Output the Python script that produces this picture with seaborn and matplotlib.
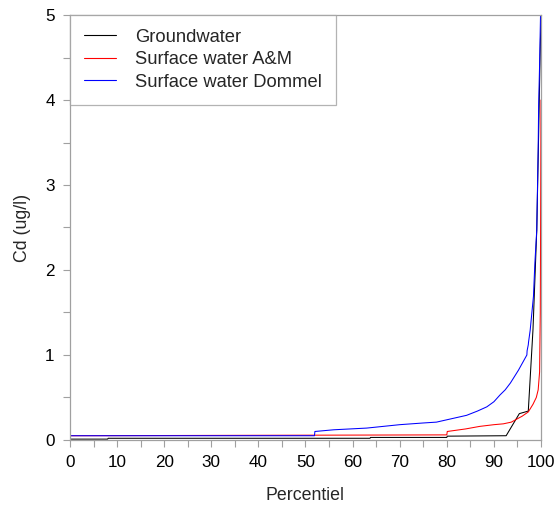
import pandas as pd
import seaborn as sns
import matplotlib.pyplot as plt
from matplotlib.ticker import MultipleLocator

# percentile curves of Cd concentration
gw_pct = [0, 8, 8.1, 63.7, 63.8, 80, 80.1, 92.6, 95.4, 97.3, 98.3, 99.1, 99.5, 99.8, 100]
gw_val = [0.01, 0.01, 0.02, 0.02, 0.03, 0.03, 0.045, 0.05, 0.31, 0.34, 1.3, 2.47, 3.6, 4.5, 5.0]

am_pct = [0, 80, 80.1, 84, 87, 90, 92, 93.7, 95, 96, 97.3, 98.3, 99, 99.4, 99.7, 99.85, 100]
am_val = [0.05, 0.06, 0.1, 0.13, 0.16, 0.18, 0.19, 0.21, 0.25, 0.28, 0.33, 0.42, 0.5, 0.59, 0.8, 1.5, 4.0]

dm_pct = [0, 51.9, 52, 56, 63, 70, 75, 77.8, 81, 84.2, 86.5, 88.5, 90, 91.3, 92.4, 93.5,
          95.2, 96.2, 97.0, 97.05, 97.3, 97.35, 97.7, 98.4, 98.7, 99.1, 99.4, 99.5, 99.7, 99.9]
dm_val = [0.05, 0.05, 0.1, 0.12, 0.14, 0.18, 0.2, 0.21, 0.25, 0.29, 0.34, 0.39, 0.45, 0.53, 0.59, 0.67,
          0.82, 0.92, 1.0, 1.05, 1.12, 1.15, 1.29, 1.69, 2.08, 2.47, 3.43, 3.94, 4.41, 5.0]

series_names = ['Groundwater', 'Surface water A&M', 'Surface water Dommel']
series_colors = ['#000000', '#ff0000', '#0000ff']

frames = []
for name, p, v in zip(series_names, [gw_pct, am_pct, dm_pct], [gw_val, am_val, dm_val]):
    frames.append(pd.DataFrame({'Percentiel': p, 'Cd': v, 'serie': name}))
df = pd.concat(frames, ignore_index=True)

sns.set_style('ticks')
plt.rcParams['font.family'] = ['Liberation Sans', 'DejaVu Sans']

fig = plt.figure(figsize=(5.59, 5.09), dpi=100)
ax = fig.add_axes([0.1252, 0.1356, 0.8426, 0.8349])

sns.lineplot(data=df, x='Percentiel', y='Cd', hue='serie', hue_order=series_names,
             palette=dict(zip(series_names, series_colors)), estimator=None, sort=False,
             linewidth=0.75, ax=ax)

ax.set_xlim(0, 100)
ax.set_ylim(0, 5)
ax.xaxis.set_major_locator(MultipleLocator(10))
ax.xaxis.set_minor_locator(MultipleLocator(5))
ax.yaxis.set_major_locator(MultipleLocator(1))
ax.yaxis.set_minor_locator(MultipleLocator(0.5))
ax.tick_params(which='both', direction='out', length=5, width=0.8, color='#a0a0a0',
               labelsize=12.3, labelcolor='black', pad=6)

for sp in ax.spines.values():
    sp.set_color('#a0a0a0')
    sp.set_linewidth(0.9)

ax.set_xlabel('Percentiel', fontsize=12.8, labelpad=12)
ax.set_ylabel('Cd (ug/l)', fontsize=12.8, labelpad=10)

handles, labels = ax.get_legend_handles_labels()
leg = ax.legend(handles, labels, loc='upper left', fontsize=13.2, frameon=True, fancybox=False,
                borderaxespad=0, handlelength=1.75, handletextpad=1.05, borderpad=0.75,
                labelspacing=0.3)
leg.get_frame().set_edgecolor('#a0a0a0')
leg.get_frame().set_linewidth(0.9)
for line in leg.get_lines():
    line.set_linewidth(0.8)

fig.savefig('out.png', dpi=100)
